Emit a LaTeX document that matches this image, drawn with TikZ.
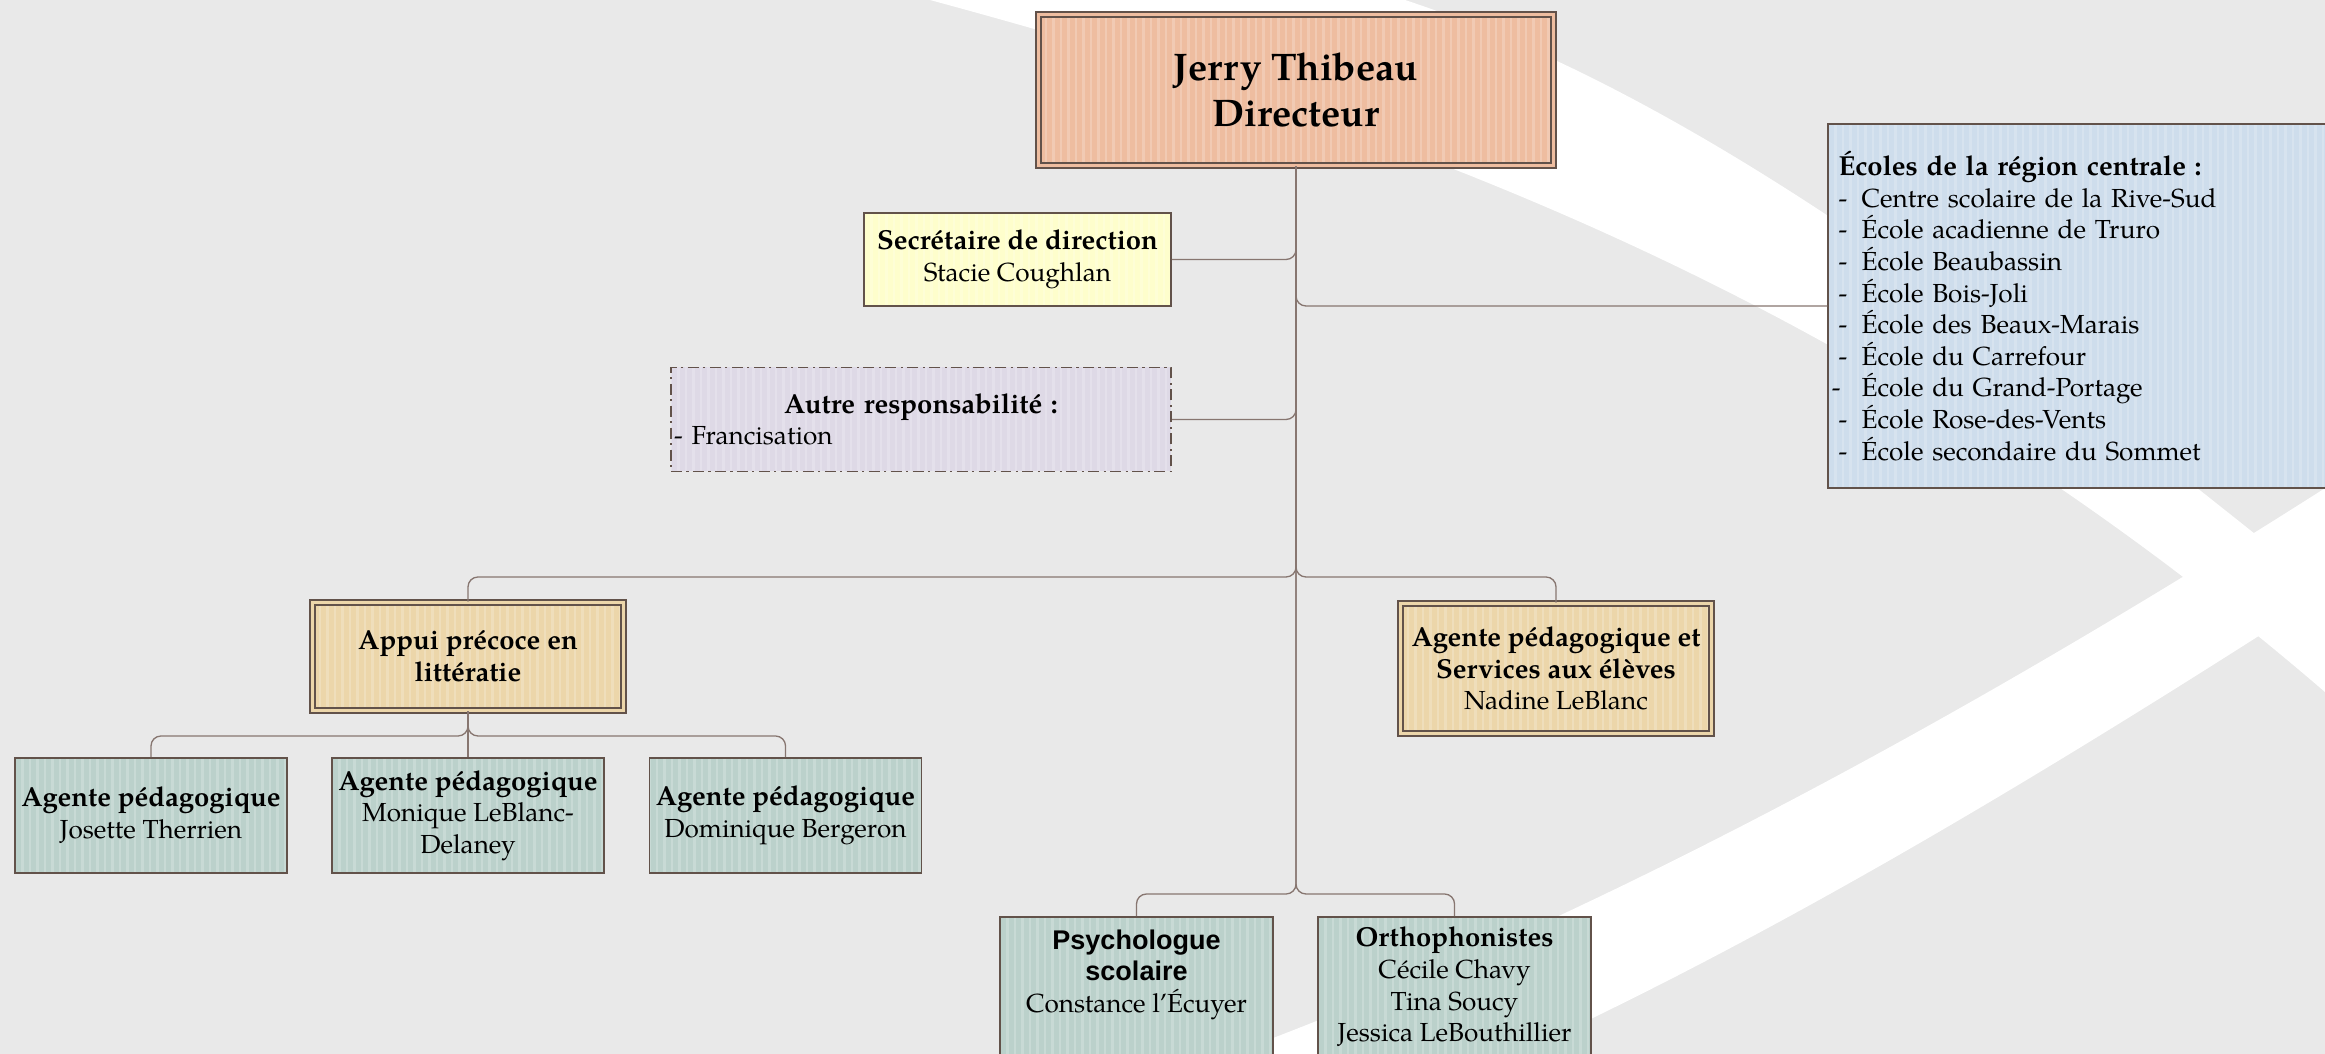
\documentclass[tikz,border=0pt]{standalone}
\usepackage{fontspec}
\setmainfont{texgyrepagella}[Extension=.otf,UprightFont=*-regular,BoldFont=*-bold,ItalicFont=*-italic,BoldItalicFont=*-bolditalic]
\setsansfont{Liberation Sans}
\usetikzlibrary{positioning}
\definecolor{bgray}{RGB}{233,233,233}
\definecolor{brd}{RGB}{98,82,74}
\definecolor{lnk}{RGB}{135,118,112}
\definecolor{salmon}{RGB}{238,189,160}
\definecolor{lemon}{RGB}{254,254,204}
\definecolor{lilac}{RGB}{222,217,230}
\definecolor{sky}{RGB}{206,221,236}
\definecolor{sand}{RGB}{236,214,170}
\definecolor{sage}{RGB}{187,209,203}
\newcommand{\titre}[1]{{\fontsize{12.5}{14.4}\selectfont\bfseries #1}}
\newcommand{\ecl}[1]{\makebox[10.5pt][l]{-}#1}
\tikzset{
	stripes/.style={path picture={\foreach \k in {0,0.12,...,9.6}
		\draw[white, solid, opacity=.2, line width=1pt] ([xshift=\k cm]path picture bounding box.south west) -- ([xshift=\k cm]path picture bounding box.north west);}},
	box/.style={draw=brd, line width=.7pt, stripes, inner sep=2pt, align=center, font=\fontsize{11.9}{14.4}\selectfont},
	dbox/.style={box, fill=#1, double=#1, double distance=1.4pt, line width=.9pt},
	link/.style={draw=lnk, line width=.6pt, rounded corners=4.5pt},
}
\begin{document}
\begin{tikzpicture}
	\useasboundingbox (0,0) rectangle (37.2,-16.864);
	\fill[bgray] (0,0) rectangle (37.2,-16.864);
	\fill[white] (14.88,0) .. controls (22.32,-2.016) and (29.76,-4.672) .. (37.2,-11.072)
		-- (37.2,-9.44) .. controls (32.288,-5.504) and (27.392,-1.616) .. (22.48,0) -- cycle;
	\fill[white] (17.6,-17.6) .. controls (24.528,-15.312) and (31.472,-11.536) .. (38.4,-7.04)
		-- (38.4,-8.72) .. controls (32,-12.88) and (25.6,-16.768) .. (19.2,-18.88) -- cycle;

	\path (20.736,-1.44) node[dbox=salmon, minimum width=8.24cm, minimum height=2.416cm, font=\fontsize{17.5}{20.5}\selectfont\bfseries] (dir) {Jerry Thibeau\\Directeur};
	\path (16.28,-4.152) node[box, fill=lemon, minimum width=4.912cm, minimum height=1.488cm] (sec) {\titre{Secrétaire de direction}\\Stacie Coughlan};
	\path (14.736,-6.712) node[box, fill=lilac, line width=.9pt, dash pattern=on 5pt off 2pt on 1pt off 2pt, inner xsep=0.5mm, text width=7.9cm, minimum height=1.664cm] (autre) {\titre{Autre responsabilité :}\\- Francisation\hfill\mbox{}};
	\path (33.384,-4.896) node[box, fill=sky, align=left, inner xsep=0.168cm, text width=7.936cm, minimum height=5.824cm] (ecoles) {\titre{Écoles de la région centrale :}\\
		\ecl{Centre scolaire de la Rive-Sud}\\
		\ecl{École acadienne de Truro}\\
		\ecl{École Beaubassin}\\
		\ecl{École Bois-Joli}\\
		\ecl{École des Beaux-Marais}\\
		\ecl{École du Carrefour}\\
		\hspace*{-3pt}\makebox[13.5pt][l]{-}École du Grand-Portage\\
		\ecl{École Rose-des-Vents}\\
		\ecl{École secondaire du Sommet}};

	\path (7.488,-10.504) node[dbox=sand, minimum width=4.976cm, minimum height=1.728cm] (appui) {\titre{Appui précoce en}\\\titre{littératie}};
	\path (24.896,-10.696) node[dbox=sand, minimum width=4.976cm, minimum height=2.08cm] (agserv) {\titre{Agente pédagogique et}\\\titre{Services aux élèves}\\Nadine LeBlanc};
	\path (appui) ++(0,-2.544) node[box, fill=sage, minimum width=4.352cm, minimum height=1.84cm] (ag2) {\titre{Agente pédagogique}\\Monique LeBlanc-\\Delaney};
	\path (ag2) ++(-5.072,0) node[box, fill=sage, minimum width=4.352cm, minimum height=1.84cm] (ag1) {\titre{Agente pédagogique}\\Josette Therrien};
	\path (ag2) ++(5.08,0) node[box, fill=sage, minimum width=4.352cm, minimum height=1.84cm] (ag3) {\titre{Agente pédagogique}\\Dominique Bergeron};
	\path (18.184,-15.792) node[box, fill=sage, minimum width=4.368cm, minimum height=2.24cm] (psych) {\textsf{\bfseries\fontsize{12.3}{14.4}\selectfont Psychologue}\\\textsf{\bfseries\fontsize{12.3}{14.4}\selectfont scolaire}\\Constance l’Écuyer\\\mbox{}};
	\path (psych) ++(5.088,0) node[box, fill=sage, minimum width=4.368cm, minimum height=2.24cm] (ortho) {\titre{Orthophonistes}\\Cécile Chavy\\Tina Soucy\\Jessica LeBouthillier};

	\coordinate (mid) at (0,-9.232);
	\coordinate (sub) at (0,-11.776);
	\coordinate (low) at (0,-14.304);
	\draw[link] (dir.south) |- (sec.east);
	\draw[link] (dir.south) |- (autre.east);
	\draw[link] (dir.south) |- (ecoles.west);
	\foreach \n in {appui,agserv}
		\draw[link] (dir.south) |- (mid -| \n.north) -- (\n.north);
	\foreach \n in {psych,ortho}
		\draw[link] (dir.south) |- (low -| \n.north) -- (\n.north);
	\draw[link] (appui.south) |- (sub -| ag1.north) -- (ag1.north);
	\draw[link] (appui.south) -- (ag2.north);
	\draw[link] (appui.south) |- (sub -| ag3.north) -- (ag3.north);
\end{tikzpicture}
\end{document}
